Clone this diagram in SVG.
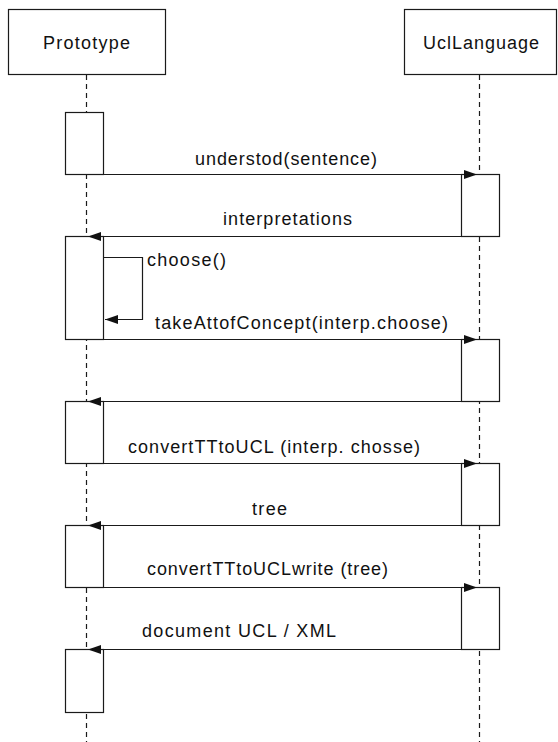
<svg xmlns="http://www.w3.org/2000/svg" width="558" height="742" viewBox="0 0 558 742">
<style>
.box{fill:#fff;stroke:#1a1a1a;stroke-width:1.2}
.life{fill:none;stroke:#1a1a1a;stroke-width:1.2;stroke-dasharray:5,4}
.msg{fill:none;stroke:#1a1a1a;stroke-width:1.2;marker-end:url(#ah)}
text{font-family:"Liberation Sans",Arial,sans-serif;font-size:18px;fill:#111}
</style>
<defs>
<marker id="ah" markerUnits="userSpaceOnUse" markerWidth="14" markerHeight="10" refX="13" refY="4.5" orient="auto">
<path d="M0,0 L13,4.5 L0,9 z" fill="#111"/>
</marker>
</defs>
<rect width="558" height="742" fill="#fff"/>
<g id="lifelines">
<line class="life" x1="86.5" y1="75" x2="86.5" y2="742"/>
<line class="life" x1="479.5" y1="75" x2="479.5" y2="742"/>
</g>
<g id="Prototype">
<rect class="box" x="8.5" y="9.5" width="157" height="65"/>
<text x="43" y="49" textLength="87" lengthAdjust="spacing">Prototype</text>
</g>
<g id="UclLanguage">
<rect class="box" x="404.5" y="9.5" width="152" height="65"/>
<text x="423" y="49" textLength="116" lengthAdjust="spacing">UclLanguage</text>
</g>
<g id="proto-activations">
<rect class="box" x="65.5" y="112.5" width="38" height="62"/>
<rect class="box" x="65.5" y="236.5" width="38" height="103"/>
<rect class="box" x="65.5" y="401.5" width="38" height="62"/>
<rect class="box" x="65.5" y="525.5" width="38" height="62"/>
<rect class="box" x="65.5" y="649.5" width="38" height="63"/>
</g>
<g id="ucl-activations">
<rect class="box" x="461.5" y="174.5" width="38" height="62"/>
<rect class="box" x="461.5" y="339.5" width="38" height="62"/>
<rect class="box" x="461.5" y="463.5" width="38" height="62"/>
<rect class="box" x="461.5" y="587.5" width="38" height="62"/>
</g>
<g id="connectors">
<line class="msg" x1="103.5" y1="174.5" x2="477" y2="174.5"/>
<line class="msg" x1="461.5" y1="236.5" x2="88" y2="236.5"/>
<polyline class="msg" points="103.5,257.5 142.5,257.5 142.5,319.5 105,319.5"/>
<line class="msg" x1="103.5" y1="339.5" x2="477" y2="339.5"/>
<line class="msg" x1="461.5" y1="401.5" x2="88" y2="401.5"/>
<line class="msg" x1="103.5" y1="463.5" x2="477" y2="463.5"/>
<line class="msg" x1="461.5" y1="525.5" x2="88" y2="525.5"/>
<line class="msg" x1="103.5" y1="587.5" x2="477" y2="587.5"/>
<line class="msg" x1="461.5" y1="649.5" x2="88" y2="649.5"/>
</g>
<g id="labels">
<text x="195" y="165" textLength="182" lengthAdjust="spacing">understod(sentence)</text>
<text x="223" y="225" textLength="129" lengthAdjust="spacing">interpretations</text>
<text x="147" y="266" textLength="79" lengthAdjust="spacing">choose()</text>
<text x="155" y="329" textLength="293" lengthAdjust="spacing">takeAttofConcept(interp.choose)</text>
<text x="128" y="453" textLength="292" lengthAdjust="spacing">convertTTtoUCL (interp. chosse)</text>
<text x="252" y="515" textLength="35" lengthAdjust="spacing">tree</text>
<text x="147" y="575" textLength="241" lengthAdjust="spacing">convertTTtoUCLwrite (tree)</text>
<text x="142" y="637" textLength="194" lengthAdjust="spacing">document UCL / XML</text>
</g>
</svg>
